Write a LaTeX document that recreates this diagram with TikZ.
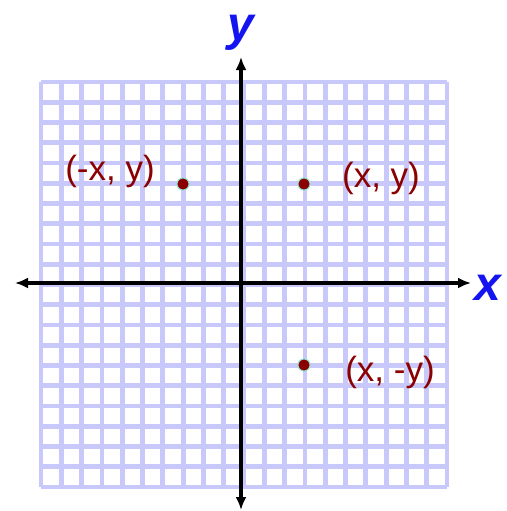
\documentclass[tikz,border=0pt]{standalone}
\usepackage{fontspec}
\setmainfont{Liberation Sans}
\usetikzlibrary{arrows.meta}

\definecolor{gridlav}{RGB}{200,200,250}
\definecolor{ptred}{RGB}{139,0,0}
\definecolor{ptring}{RGB}{140,225,205}
\definecolor{axblue}{RGB}{20,20,240}

\begin{document}
\begin{tikzpicture}[
    x=1pt, y=-1pt,
    >={Latex[length=13pt,width=11pt]},
    gridline/.style={draw=gridlav, line width=4.8pt},
    axis/.style={<->, line width=4pt, black},
    axislabel/.style={text=axblue, font=\fontsize{48}{48}\selectfont\bfseries\itshape, inner sep=0pt},
    pt/.style={circle, fill=ptred, draw=ptring, line width=1pt, minimum size=12pt, inner sep=0pt},
    ptlabel/.style={text=ptred, font=\fontsize{35}{35}\selectfont, inner sep=0pt}
]

% canvas
\useasboundingbox (0,0) rectangle (506,511);

% -------------------------
% Grid
% -------------------------
\foreach \i in {0,...,20} {
    \draw[gridline] (41+20.3*\i, 82) -- (41+20.3*\i, 487);
    \draw[gridline] (41, 82+20.25*\i) -- (447, 82+20.25*\i);
}

% -------------------------
% Axes
% -------------------------
\coordinate (xmin) at (15, 283);
\coordinate (xmax) at (471, 283);
\coordinate (ymin) at (241, 510);
\coordinate (ymax) at (241, 57);

\draw[axis] (xmin) -- (xmax);
\draw[axis] (ymin) -- (ymax);

\node[axislabel] (xlab) at (488, 288) {x};
\node[axislabel] (ylab) at (241, 33) {y};

% -------------------------
% Points & Labels
% -------------------------
\node[pt] (PtA) at (304, 184) {};
\node[pt] (PtB) at (183, 184) {};
\node[pt] (PtC) at (304, 365) {};

\node[ptlabel] (LabA) at (381, 178) {(x, y)};
\node[ptlabel] (LabB) at (110, 171) {(-x, y)};
\node[ptlabel] (LabC) at (390, 372) {(x, -y)};

\end{tikzpicture}
\end{document}
